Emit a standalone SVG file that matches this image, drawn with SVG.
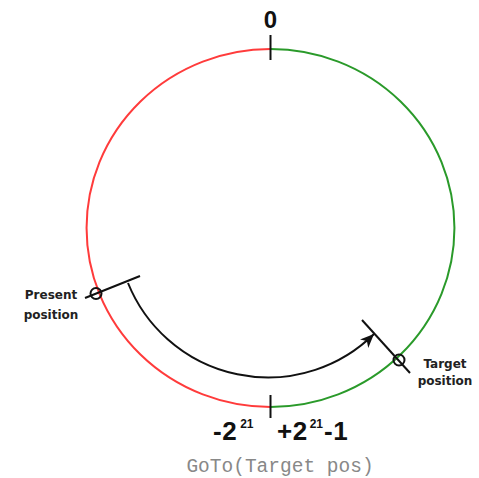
<svg xmlns="http://www.w3.org/2000/svg" width="479" height="478" viewBox="0 0 479 478">
<defs>
<style>
.big{font-family:"Liberation Sans",Arial,sans-serif;font-weight:bold;fill:#111}
.lbl{font-family:"DejaVu Sans",sans-serif;font-weight:bold;font-size:12px;fill:#222;text-anchor:middle}
.ln{stroke:#111;stroke-width:2;fill:none}
.code{font-family:"Liberation Mono","Courier New",monospace;font-size:19.5px;fill:#888}
</style>
<marker id="arr" markerUnits="userSpaceOnUse" markerWidth="16" markerHeight="14" refX="14" refY="6" orient="auto">
<path d="M0,0 L14,6 L0,12 L4,6 z" fill="#111"/>
</marker>
</defs>
<rect width="479" height="478" fill="#fff"/>
<g id="circle">
<path d="M270.5,49 A184,179 0 0 0 270.5,407" stroke="#ff3b3b" stroke-width="2" fill="none"/>
<path d="M270.5,49 A184,179 0 0 1 270.5,407" stroke="#2a9a2a" stroke-width="2" fill="none"/>
</g>
<g id="ticks">
<line class="ln" x1="270.5" y1="35" x2="270.5" y2="60"/>
<line class="ln" x1="270.5" y1="395" x2="270.5" y2="418"/>
</g>
<g id="present">
<line class="ln" x1="85" y1="298" x2="140" y2="276"/>
<circle cx="96" cy="293.5" r="5.5" class="ln"/>
<text class="lbl" x="51" y="299">Present</text>
<text class="lbl" x="51" y="319">position</text>
</g>
<g id="target">
<line class="ln" x1="362" y1="320" x2="410" y2="373"/>
<circle cx="399" cy="360" r="5.5" class="ln"/>
<text class="lbl" x="445" y="368">Target</text>
<text class="lbl" x="445" y="385">position</text>
</g>
<g id="connectors">
<path class="ln" d="M128,283 A151,151 0 0 0 374,334" marker-end="url(#arr)"/>
</g>
<g id="labels">
<text class="big" x="270.5" y="28" font-size="24" text-anchor="middle">0</text>
<text class="big" x="213" y="440" font-size="26" letter-spacing="0.5">-2<tspan font-size="12" dy="-12" dx="3" letter-spacing="0">21</tspan></text>
<text class="big" x="277" y="440" font-size="26" letter-spacing="0.5">+2<tspan font-size="12" dy="-12" dx="2" letter-spacing="0">21</tspan><tspan dy="12" dx="1">-1</tspan></text>
<text class="code" x="280" y="472" text-anchor="middle">GoTo(Target pos)</text>
</g>
</svg>
